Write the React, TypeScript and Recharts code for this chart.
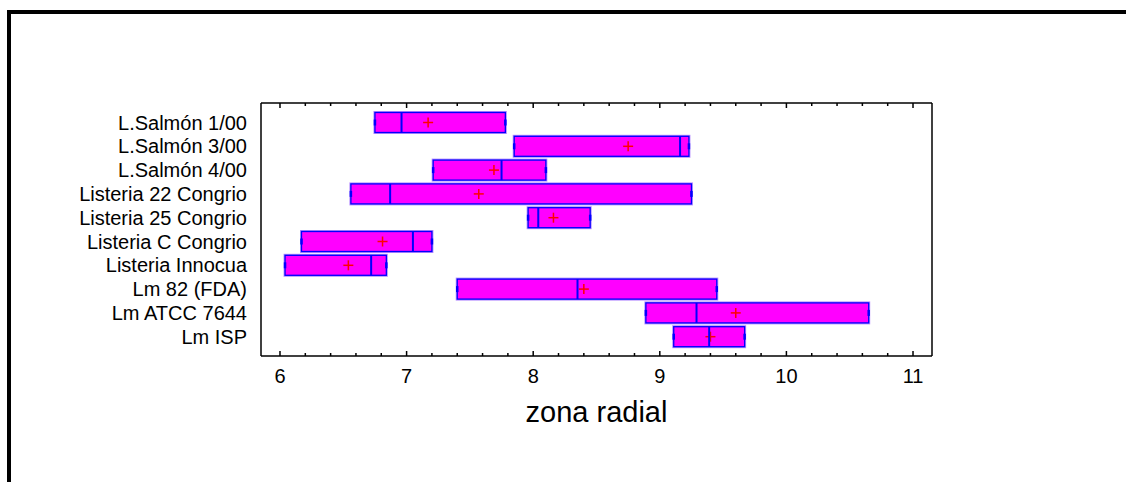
import { ComposedChart, Bar, Line, XAxis, YAxis } from 'recharts'

// box plot: Q1..Q3 box, median line, mean marker
const categories = [
  'L.Salmón 1/00',
  'L.Salmón 3/00',
  'L.Salmón 4/00',
  'Listeria 22 Congrio',
  'Listeria 25 Congrio',
  'Listeria C Congrio',
  'Listeria Innocua',
  'Lm 82 (FDA)',
  'Lm ATCC 7644',
  'Lm ISP',
]
const q1Values = [6.75, 7.85, 7.21, 6.56, 7.96, 6.17, 6.04, 7.4, 8.89, 9.11]
const medianValues = [6.96, 9.16, 7.75, 6.87, 8.04, 7.05, 6.72, 8.35, 9.29, 9.39]
const q3Values = [7.78, 9.23, 8.1, 9.25, 8.45, 7.2, 6.84, 9.45, 10.65, 9.67]
const meanValues = [7.17, 8.75, 7.69, 7.57, 8.16, 6.81, 6.54, 8.4, 9.6, 9.4]

const xTicks = [
  6, 6.2, 6.4, 6.6, 6.8, 7, 7.2, 7.4, 7.6, 7.8, 8, 8.2, 8.4, 8.6, 8.8, 9, 9.2, 9.4, 9.6, 9.8, 10,
  10.2, 10.4, 10.6, 10.8, 11,
]
const xTickLabels = ['6', '7', '8', '9', '10', '11']

const rows = categories.map((name, i) => ({
  name,
  range: [q1Values[i], q3Values[i]],
  q1: q1Values[i],
  q3: q3Values[i],
  median: medianValues[i],
  mean: meanValues[i],
}))

const FONT = '"Liberation Sans", Arial, sans-serif'
const DOMAIN: [number, number] = [5.85, 11.15]

const isMajor = (v: number) => Math.abs(v - Math.round(v)) < 1e-6

function BottomTick(props: any) {
  const { x, y, payload } = props
  const v = payload.value as number
  const major = isMajor(v)
  const label = xTickLabels.find((t) => Number(t) === Math.round(v))
  return (
    <g>
      <line x1={x} x2={x} y1={y} y2={y - (major ? 5 : 3)} stroke="#000" strokeWidth={1.5} />
      {major && (
        <text x={x} y={y + 20} dy="0.355em" textAnchor="middle" fontSize={20} fill="#000" fontFamily={FONT}>
          {label}
        </text>
      )}
    </g>
  )
}

function TopTick(props: any) {
  const { x, y, payload } = props
  const major = isMajor(payload.value)
  return <line x1={x} x2={x} y1={y} y2={y + (major ? 5 : 3)} stroke="#000" strokeWidth={1.5} />
}

function BoxShape(props: any) {
  const { x, y, width, height, payload } = props
  const { q1, q3, median, mean } = payload
  const w = Math.abs(width)
  const x0 = width < 0 ? x + width : x
  const pos = (v: number) => x0 + ((v - q1) / (q3 - q1)) * w
  const cy = y + height / 2
  const mx = pos(median)
  const ax = pos(mean)
  return (
    <g>
      <rect x={x0} y={y} width={w} height={height} fill="#ff00ff" stroke="#b58cff" strokeWidth={3} />
      <rect x={x0} y={y} width={w} height={height} fill="#ff00ff" stroke="#0000ff" strokeWidth={1.3} />
      <line x1={x0} x2={x0} y1={cy - 3} y2={cy + 3} stroke="#0000ff" strokeWidth={2.5} />
      <line x1={x0 + w} x2={x0 + w} y1={cy - 3} y2={cy + 3} stroke="#0000ff" strokeWidth={2.5} />
      <line x1={ax - 5} x2={ax + 5} y1={cy} y2={cy} stroke="#ff0000" strokeWidth={1.5} />
      <line x1={ax} x2={ax} y1={cy - 5} y2={cy + 5} stroke="#ff0000" strokeWidth={1.5} />
      <line x1={mx} x2={mx} y1={y} y2={y + height} stroke="#0000ff" strokeWidth={2} />
    </g>
  )
}

export default function App() {
  return (
    <div style={{ position: 'fixed', left: 0, top: 0, width: 1126, height: 482, background: '#fff', fontFamily: FONT }}>
      <div
        style={{
          position: 'absolute',
          left: 7,
          top: 10,
          right: 0,
          bottom: 0,
          borderTop: '4px solid #000',
          borderLeft: '4px solid #000',
        }}
      />
      <div style={{ position: 'absolute', left: 0, top: 0 }}>
        <ComposedChart
          width={1126}
          height={482}
          layout="vertical"
          data={rows}
          margin={{ top: 102, right: 193, bottom: 46, left: 0 }}
        >
          <XAxis
            type="number"
            domain={DOMAIN}
            allowDataOverflow
            ticks={xTicks}
            interval={0}
            height={80}
            tickSize={0}
            tickMargin={0}
            tickLine={false}
            axisLine={{ stroke: '#000', strokeWidth: 1.5 }}
            tick={<BottomTick />}
            label={{
              value: 'zona radial',
              position: 'insideBottom',
              offset: 14,
              fontSize: 29,
              fill: '#000',
              fontFamily: FONT,
            }}
          />
          <XAxis
            xAxisId="top"
            orientation="top"
            type="number"
            domain={DOMAIN}
            allowDataOverflow
            ticks={xTicks}
            interval={0}
            height={1}
            tickSize={0}
            tickMargin={0}
            tickLine={false}
            axisLine={{ stroke: '#000', strokeWidth: 1.5 }}
            tick={<TopTick />}
          />
          <YAxis
            type="category"
            dataKey="name"
            width={261}
            padding={{ top: 7.5, bottom: 7.5 }}
            tickSize={0}
            tickMargin={14}
            tickLine={false}
            interval={0}
            axisLine={{ stroke: '#000', strokeWidth: 1.5 }}
            tick={{ fontSize: 20, fill: '#000', fontFamily: FONT }}
          />
          <YAxis
            yAxisId="right"
            orientation="right"
            type="category"
            dataKey="name"
            width={1}
            padding={{ top: 7.5, bottom: 7.5 }}
            tick={false}
            tickLine={false}
            axisLine={{ stroke: '#000', strokeWidth: 1.5 }}
          />
          <Bar dataKey="range" barSize={20} shape={<BoxShape />} isAnimationActive={false} />
          {/* invisible series so the top and right frame axes get drawn */}
          <Line
            xAxisId="top"
            yAxisId="right"
            dataKey="mean"
            stroke="none"
            dot={false}
            activeDot={false}
            legendType="none"
            isAnimationActive={false}
          />
        </ComposedChart>
      </div>
    </div>
  )
}
